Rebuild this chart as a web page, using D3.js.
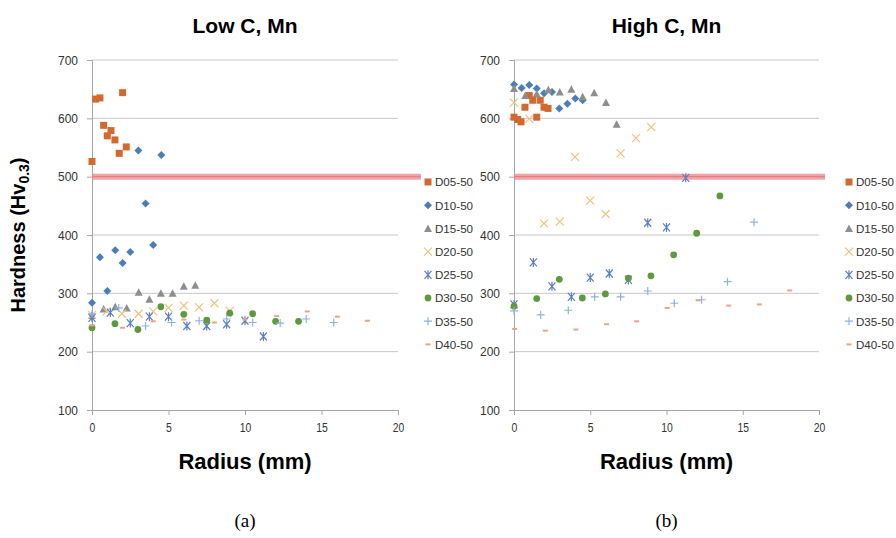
<!DOCTYPE html>
<html><head><meta charset="utf-8">
<script src="https://cdn.jsdelivr.net/npm/d3@7"></script>
<style>body{margin:0;background:#fff}svg{display:block}</style>
</head><body><svg id="c" width="896" height="538"></svg>
<script>
const seriesNames = ["D05-50","D10-50","D15-50","D20-50","D25-50","D30-50","D35-50","D40-50"];
const yTicks = [100,200,300,400,500,600,700];
const xTicks = [0,5,10,15,20];
const threshold = 500;

// Low C, Mn : [radius, hardness]
const lowD05 = [[0,526],[0.24,633],[0.52,635],[0.76,588],[1.0,570],[1.24,579],[1.5,563],[1.78,540],[2.0,644],[2.24,551]];
const lowD10 = [[0,284],[0.52,362],[1.0,304],[1.52,374],[2.0,352],[2.5,371],[3.03,545],[3.5,454],[4.0,383],[4.53,537]];
const lowD15 = [[0,262],[0.76,273],[1.52,277],[2.27,275],[3.05,302],[3.75,290],[4.5,300],[5.27,300],[6.0,312],[6.75,314]];
const lowD20 = [[0,263],[0.96,269],[1.96,265],[3.05,265],[4.0,269],[5.0,275],[6.0,279],[7.0,276],[8.0,283],[9.0,270]];
const lowD25 = [[0,258],[1.2,267],[2.5,249],[3.75,260],[5.0,260],[6.2,244],[7.5,244],[8.8,247],[10.0,253],[11.2,226]];
const lowD30 = [[0,241],[1.5,248],[3.0,238],[4.5,277],[6.0,264],[7.5,254],[9.0,266],[10.5,265],[12.0,252],[13.5,252]];
const lowD35 = [[0,265],[1.75,275],[3.5,244],[5.2,250],[7.0,253],[8.8,256],[10.5,250],[12.3,249],[14.0,256],[15.8,250]];
const lowD40 = [[0,245],[2.0,241],[4.0,252],[6.0,255],[8.0,250],[10.0,255],[12.07,261],[14.07,269],[16.03,260],[18.0,253]];

// High C, Mn
const highD05 = [[0,602],[0.24,598],[0.46,594],[0.72,619],[1.0,639],[1.23,631],[1.49,602],[1.72,631],[1.97,619],[2.23,617]];
const highD10 = [[0,658],[0.5,652],[1.0,657],[1.49,651],[1.97,643],[2.49,645],[2.97,617],[3.5,625],[4.02,634],[4.5,631]];
const highD15 = [[0,651],[0.74,639],[1.49,642],[2.25,649],[3.0,645],[3.76,650],[4.5,637],[5.26,644],[6.03,627],[6.73,590]];
const highD20 = [[0,627],[1.0,599],[1.97,420],[3.0,423],[4.0,534],[5.0,459],[6.01,436],[6.99,540],[8.0,566],[9.0,585]];
const highD25 = [[0,281],[1.27,353],[2.49,312],[3.76,294],[5.0,327],[6.25,334],[7.5,323],[8.77,421],[10.0,413],[11.26,498]];
const highD30 = [[0,278],[1.49,291],[2.97,324],[4.48,292],[5.99,299],[7.5,326],[8.98,330],[10.47,366],[11.98,403],[13.5,467]];
const highD35 = [[0,270],[1.75,263],[3.56,271],[5.29,294],[6.99,294],[8.77,304],[10.51,283],[12.3,289],[14.0,320],[15.74,422]];
const highD40 = [[0.04,239],[2.05,236],[4.06,238],[6.07,247],[8.04,252],[10.05,275],[12.07,288],[14.08,279],[16.09,281],[18.08,305]];

const lowSeries = [lowD05,lowD10,lowD15,lowD20,lowD25,lowD30,lowD35,lowD40];
const highSeries = [highD05,highD10,highD15,highD20,highD25,highD30,highD35,highD40];

const colors = ["#d4692f","#4a7ebb","#8e8e8e","#f0c27f","#5b7fc7","#5e9a3d","#8fb3e3","#f3a183"];
const shapes = ["square","diamond","triangle","x","asterisk","circle","plus","dash"];

const svg = d3.select("#c");
const font = "'Liberation Sans', Arial, sans-serif";

function drawMarker(g, shape, color, x, y){
  if(shape==="square"){
    g.append("rect").attr("x",x-3.5).attr("y",y-3.5).attr("width",7).attr("height",7).attr("fill",color);
  } else if(shape==="diamond"){
    g.append("path").attr("d",`M${x},${y-4}L${x+4},${y}L${x},${y+4}L${x-4},${y}Z`).attr("fill",color);
  } else if(shape==="triangle"){
    g.append("path").attr("d",`M${x},${y-4}L${x+4},${y+3.5}L${x-4},${y+3.5}Z`).attr("fill",color);
  } else if(shape==="circle"){
    g.append("circle").attr("cx",x).attr("cy",y).attr("r",3.4).attr("fill",color);
  } else if(shape==="x"){
    g.append("path").attr("d",`M${x-4},${y-4}L${x+4},${y+4}M${x-4},${y+4}L${x+4},${y-4}`).attr("stroke",color).attr("stroke-width",1.2).attr("fill","none");
  } else if(shape==="asterisk"){
    g.append("path").attr("d",`M${x-3.5},${y-4}L${x+3.5},${y+4}M${x-3.5},${y+4}L${x+3.5},${y-4}M${x},${y-4.5}L${x},${y+4.5}`).attr("stroke",color).attr("stroke-width",1.2).attr("fill","none");
  } else if(shape==="plus"){
    g.append("path").attr("d",`M${x-4},${y}L${x+4},${y}M${x},${y-4}L${x},${y+4}`).attr("stroke",color).attr("stroke-width",1.2).attr("fill","none");
  } else if(shape==="dash"){
    g.append("rect").attr("x",x-2.5).attr("y",y-1).attr("width",5).attr("height",2).attr("fill",color);
  }
}

function panel(x0, x1, series, title, bandEnd, legendX, tag){
  const x = d3.scaleLinear().domain([0,20]).range([x0,x1]);
  const y = d3.scaleLinear().domain([100,700]).range([410,60]);
  const g = svg.append("g");
  g.selectAll("line.grid").data(yTicks.filter(v=>v>100)).join("line")
    .attr("x1",x0).attr("x2",x1).attr("y1",d=>y(d)).attr("y2",d=>y(d))
    .attr("stroke","#c8c8c8").attr("stroke-width",1);
  const ya = g.append("g").attr("transform",`translate(${x0},0)`)
    .call(d3.axisLeft(y).tickValues(yTicks).tickSize(5).tickPadding(9).tickFormat(d3.format("d")));
  ya.select(".domain").attr("stroke","#a6a6a6");
  ya.selectAll(".tick line").attr("stroke","#a6a6a6");
  ya.selectAll("text").attr("font-family",font).attr("font-size",13).attr("fill","#333")
    .attr("textLength",20).attr("lengthAdjust","spacingAndGlyphs");
  const xa = g.append("g").attr("transform",`translate(0,${y(100)})`)
    .call(d3.axisBottom(x).tickValues(xTicks).tickSize(5).tickPadding(8).tickFormat(d3.format("d")));
  xa.select(".domain").attr("stroke","#a6a6a6");
  xa.selectAll(".tick line").attr("stroke","#a6a6a6");
  xa.selectAll("text").attr("font-family",font).attr("font-size",13).attr("fill","#333")
    .attr("transform","scale(0.8,1)").attr("x",0);
  g.append("line").attr("x1",x(0)).attr("x2",x(bandEnd)).attr("y1",y(threshold)).attr("y2",y(threshold))
    .attr("stroke","#f08c92").attr("stroke-width",6).attr("stroke-opacity",0.8);
  g.append("line").attr("x1",x(0)).attr("x2",x(bandEnd)).attr("y1",y(threshold)).attr("y2",y(threshold))
    .attr("stroke","#e06a74").attr("stroke-width",1.2).attr("stroke-opacity",0.6);
  series.forEach((s,i)=>{
    const sg = g.append("g");
    s.forEach(p=>drawMarker(sg, shapes[i], colors[i], x(p[0]), y(p[1])));
  });
  svg.append("text").attr("x",(x0+x1)/2).attr("y",33).attr("text-anchor","middle")
    .attr("font-family",font).attr("font-weight","bold").attr("font-size",21).attr("fill","#000").text(title);
  svg.append("text").attr("x",(x0+x1)/2).attr("y",469).attr("text-anchor","middle")
    .attr("font-family",font).attr("font-weight","bold").attr("font-size",22).attr("fill","#000").text("Radius (mm)");
  svg.append("text").attr("x",(x0+x1)/2).attr("y",527).attr("text-anchor","middle")
    .attr("font-family","'Liberation Serif', serif").attr("font-size",19).attr("fill","#000").text(tag);
  const lg = svg.append("g");
  seriesNames.forEach((n,i)=>{
    const ly = 182 + i*23.2;
    drawMarker(lg, shapes[i], colors[i], legendX, ly);
    lg.append("text").attr("x",legendX+7).attr("y",ly+4.3).attr("font-family",font)
      .attr("font-size",11.6).attr("fill","#333").text(n);
  });
}

panel(92, 398, lowSeries, "Low C, Mn", 21.5, 428, "(a)");
panel(514, 819, highSeries, "High C, Mn", 20.4, 849, "(b)");

const yt = svg.append("text").attr("transform","translate(25,235) rotate(-90)").attr("text-anchor","middle")
  .attr("font-family",font).attr("font-weight","bold").attr("font-size",20).attr("fill","#000");
yt.append("tspan").text("Hardness (Hv");
yt.append("tspan").attr("font-size",14).attr("dy",4).text("0.3");
yt.append("tspan").attr("dy",-4).text(")");
</script>
</body></html>
